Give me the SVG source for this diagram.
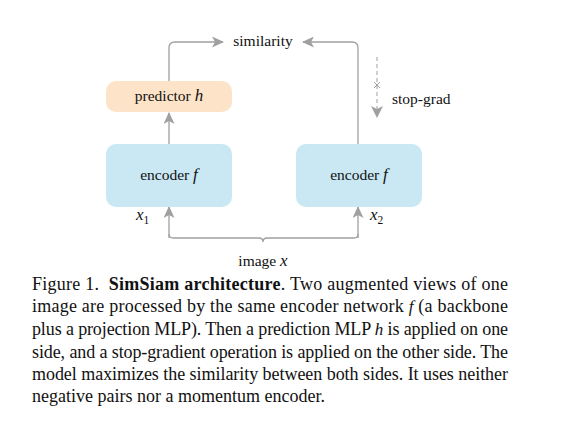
<svg xmlns="http://www.w3.org/2000/svg" width="571" height="427" viewBox="0 0 571 427">
<style>
.t{font-family:"Liberation Serif","Times New Roman",serif;fill:#111;}
.d{font-size:15.5px;}
.c{font-size:18px;}
.m{font-style:italic;font-size:17px;}
.ln{fill:none;stroke:#a0a0a0;stroke-width:1.3;}
.dash{fill:none;stroke:#b0b0b0;stroke-width:1.2;stroke-dasharray:4 3;}
</style>
<defs>
<marker id="ah" viewBox="0 0 12 11" refX="11" refY="5.5" markerWidth="12" markerHeight="11" markerUnits="userSpaceOnUse" orient="auto">
<path d="M0,0 L12,5.5 L0,11 L3,5.5 Z" fill="#a0a0a0"/>
</marker>
</defs>
<rect width="571" height="427" fill="#fff"/>
<g id="connectors">
<path class="ln" d="M169,81 V48 Q169,42 175,42 H223" marker-end="url(#ah)"/>
<path class="ln" d="M358,144 V48 Q358,42 352,42 H303" marker-end="url(#ah)"/>
<path class="ln" d="M169,144 V113" marker-end="url(#ah)"/>
<path class="ln" d="M169,238 V207" marker-end="url(#ah)"/>
<path class="ln" d="M358,238 V207" marker-end="url(#ah)"/>
<path class="ln" d="M173,238 Q169,238 169,234 M173,238 H259 Q263,238 263,242 M263,242 Q263,238 267,238 H354 Q358,238 358,234"/>
<path class="dash" d="M377,57 V116"/>
<path d="M371,106 L377,118 L383,106 L377,109 Z" fill="#a0a0a0"/>
<path d="M374,82 L380,88 M380,82 L374,88" stroke="#a0a0a0" stroke-width="1"/>
</g>
<g id="predictor">
<rect x="106" y="81" width="126" height="31" rx="10" fill="#fde4c8"/>
<text class="t d" x="169" y="101" text-anchor="middle">predictor <tspan class="m">h</tspan></text>
</g>
<g id="encoder1">
<rect x="106" y="144" width="126" height="63" rx="10" fill="#c9e8f3"/>
<text class="t d" x="169" y="180" text-anchor="middle">encoder <tspan class="m">f</tspan></text>
</g>
<g id="encoder2">
<rect x="296" y="144" width="126" height="63" rx="10" fill="#c9e8f3"/>
<text class="t d" x="359" y="180" text-anchor="middle">encoder <tspan class="m">f</tspan></text>
</g>
<g id="labels">
<text class="t d" x="263" y="46" text-anchor="middle">similarity</text>
<text class="t d" x="392" y="104">stop-grad</text>
<text class="t d" x="136" y="220"><tspan class="m">x</tspan><tspan font-size="11.5" dy="4">1</tspan></text>
<text class="t d" x="370" y="220"><tspan class="m">x</tspan><tspan font-size="11.5" dy="4">2</tspan></text>
<text class="t d" x="263" y="266" text-anchor="middle">image <tspan class="m">x</tspan></text>
</g>
<g id="caption">
<text class="t c" x="32" y="290" textLength="476" lengthAdjust="spacing">Figure 1. &#160;<tspan font-weight="bold">SimSiam architecture</tspan>. Two augmented views of one</text>
<text class="t c" x="32" y="312" textLength="476" lengthAdjust="spacing">image are processed by the same encoder network <tspan class="m" font-size="18">f</tspan> (a backbone</text>
<text class="t c" x="32" y="335" textLength="476" lengthAdjust="spacing">plus a projection MLP). Then a prediction MLP <tspan class="m" font-size="18">h</tspan> is applied on one</text>
<text class="t c" x="32" y="358" textLength="476" lengthAdjust="spacing">side, and a stop-gradient operation is applied on the other side. The</text>
<text class="t c" x="32" y="380" textLength="476" lengthAdjust="spacing">model maximizes the similarity between both sides. It uses neither</text>
<text class="t c" x="32" y="402">negative pairs nor a momentum encoder.</text>
</g>
</svg>
